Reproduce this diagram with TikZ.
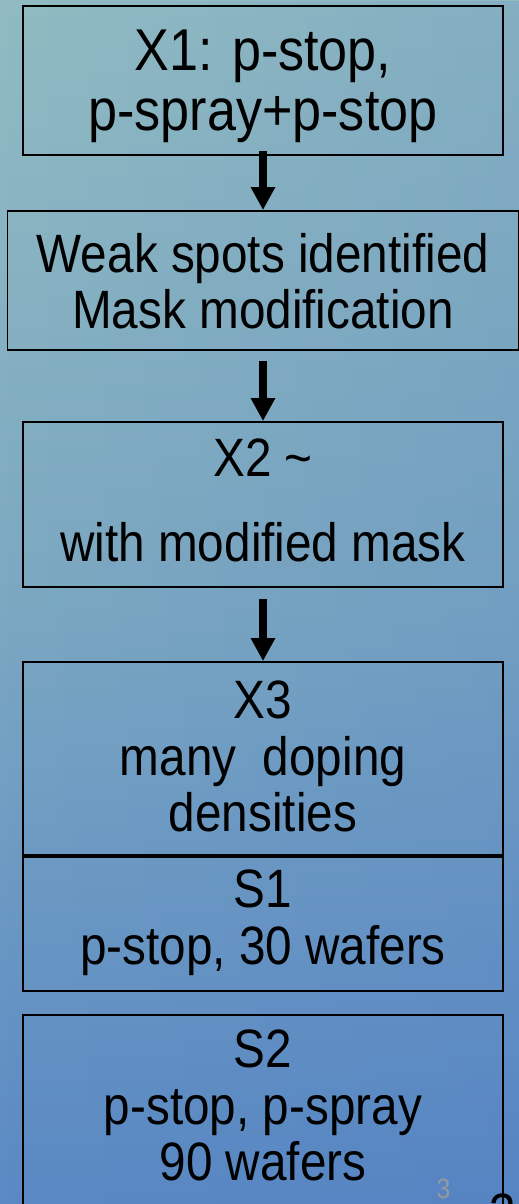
\documentclass[tikz,border=0pt]{standalone}
\usepackage{fontspec}
\usetikzlibrary{arrows.meta,fadings}
\newfontfamily\slidefont[FakeStretch=0.883]{Liberation Sans}
\definecolor{bgtop}{RGB}{145,187,193}
\definecolor{bgmid}{RGB}{124,168,193}
\definecolor{bgbot}{RGB}{90,137,196}
\definecolor{bgblue}{RGB}{60,105,195}
\definecolor{pagenum}{RGB}{150,152,156}

\begin{document}
\begin{tikzpicture}[x=1pt,y=-1pt,
    stage/.style={draw,line width=1.8pt,minimum width=480pt,inner sep=0pt},
    stagetext/.style={align=center,inner sep=0pt,anchor=north,font=\slidefont\fontsize{54}{56.5}\selectfont},
    flow/.style={line width=8pt,-{Triangle[length=23pt,width=23pt]}}]
    \useasboundingbox (0,0) rectangle (519,1204);
    % slide background
    \shade[top color=bgtop,bottom color=bgbot,middle color=bgmid] (0,0) rectangle (519,1204);
    \fill[bgblue,opacity=0.15,path fading=west] (0,0) rectangle (519,1204);
    % boxes
    \node[stage,minimum height=149pt] (x1) at (263,80.75) {};
    \node[stage,minimum width=511pt,minimum height=139pt] (weak) at (263,280.5) {};
    \node[stage,minimum height=165pt] (x2) at (263,504.5) {};
    \node[stage,minimum height=193pt] (x3) at (263,758.5) {};
    \node[stage,minimum height=134pt] (s1) at (263,924) {};
    \node[stage,minimum height=220pt] (s2) at (263,1125) {};
    % texts
    \node[stagetext,font=\slidefont\fontsize{59}{60}\selectfont] (x1t) at (263,29.7) {X1: p-stop,\\p-spray+p-stop};
    \node[stagetext,font=\slidefont\fontsize{54}{56}\selectfont] (weakt) at (263,232.7) {Weak spots identified\\Mask modification};
    \node[stagetext] (x2t) at (263,439) {X2 \textasciitilde\\[28.5pt]with modified mask};
    \node[stagetext] (x3t) at (263,681) {X3\\many\ \ doping\\densities};
    \node[stagetext] (s1t) at (263,870) {S1\\p-stop, 30 wafers};
    \node[stagetext] (s2t) at (263,1030) {S2\\p-stop, p-spray\\90 wafers};
    % arrows
    \draw[flow] ([yshift=5pt]x1.south) -- (weak.north);
    \draw[flow] ([yshift=-10pt]weak.south) -- (x2.north);
    \draw[flow] ([yshift=-11pt]x2.south) -- (x3.north);
    % page numbers
    \node[font=\slidefont\fontsize{28}{30}\selectfont,text=pagenum,anchor=base,inner sep=0pt] (num) at (443.5,1198) {3};
    \node[font=\slidefont\fontsize{54}{56}\selectfont,anchor=base,inner sep=0pt] (numb) at (503,1231) {3};
\end{tikzpicture}
\end{document}
